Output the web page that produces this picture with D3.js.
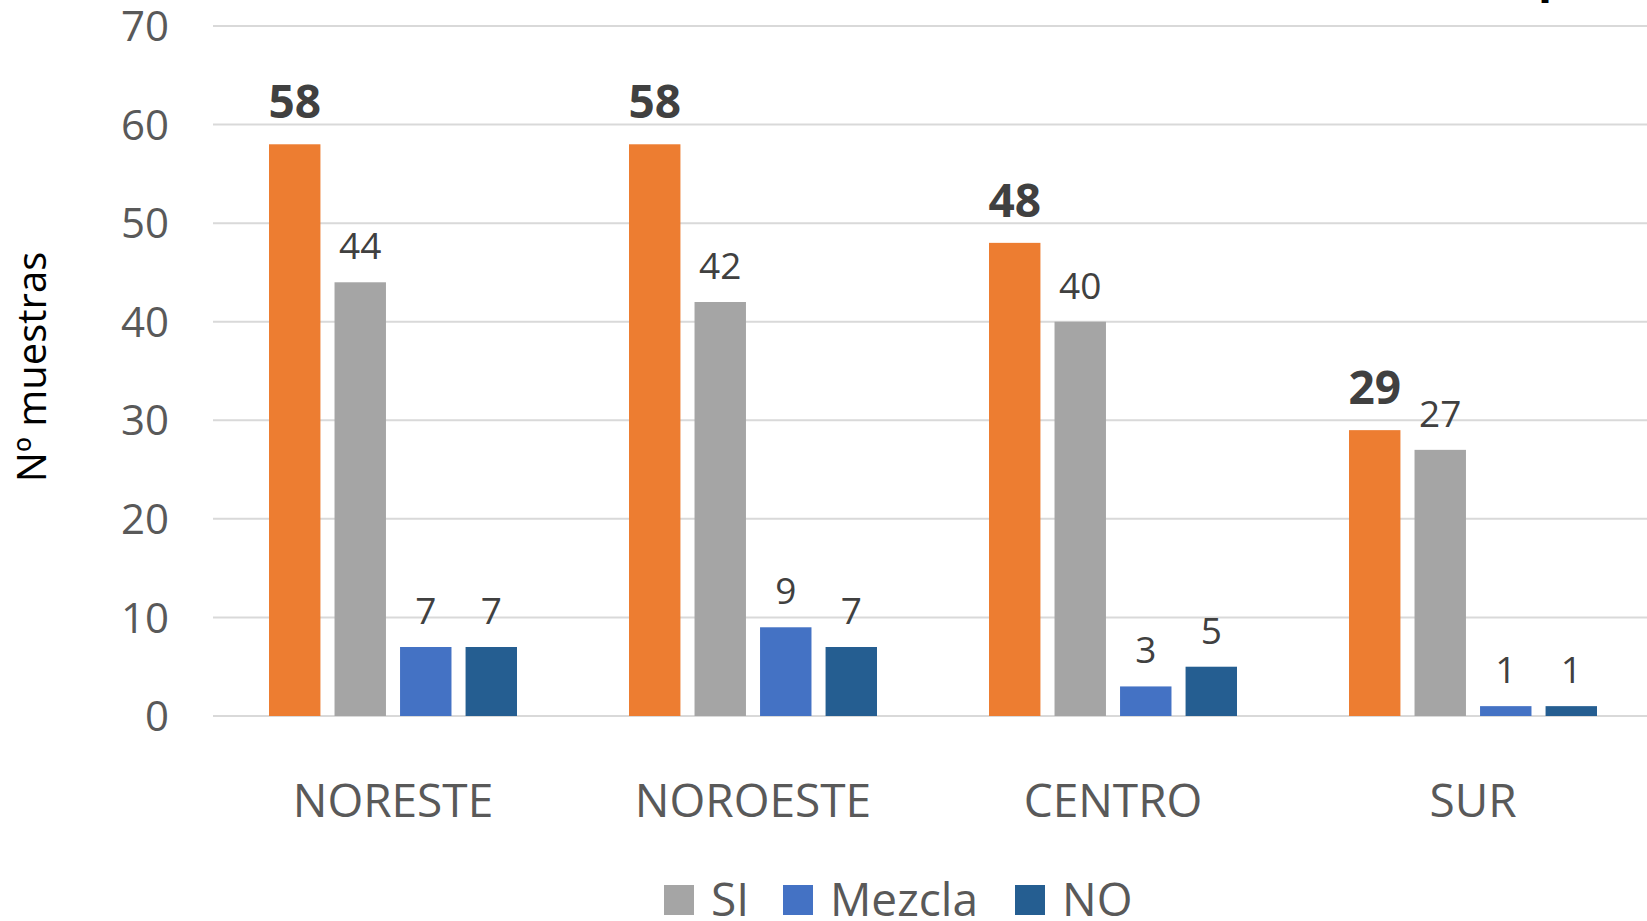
<!DOCTYPE html>
<html>
<head>
<meta charset="utf-8">
<script src="https://cdn.jsdelivr.net/npm/d3@7"></script>
<style>
  body { margin: 0; background: #fff; }
  svg { display: block; font-family: "Open Sans", sans-serif; }
</style>
</head>
<body>
<div id="chart"></div>
<script>
// data
const categories = ["NORESTE", "NOROESTE", "CENTRO", "SUR"];
const seriesNames = ["Total", "SI", "Mezcla", "NO"];
const totalValues = [58, 58, 48, 29];
const siValues = [44, 42, 40, 27];
const mezclaValues = [7, 9, 3, 1];
const noValues = [7, 7, 5, 1];
const yTicks = [0, 10, 20, 30, 40, 50, 60, 70];
const legendNames = ["SI", "Mezcla", "NO"];

const colors = {Total: "#ED7D31", SI: "#A5A5A5", Mezcla: "#4472C4", NO: "#255E91"};
const seriesValues = {Total: totalValues, SI: siValues, Mezcla: mezclaValues, NO: noValues};

const width = 1647, height = 921;
const plotLeft = 213, plotRight = 1653, plotTop = 26, plotBottom = 716;

const svg = d3.select("#chart").append("svg")
    .attr("width", width)
    .attr("height", height);

const x = d3.scaleBand().domain(categories).range([plotLeft, plotRight]);
const xInner = d3.scaleBand().domain(seriesNames)
    .range([56, x.bandwidth() - 56])
    .paddingInner(0.215);
const y = d3.scaleLinear().domain([0, 70]).range([plotBottom, plotTop]);

// gridlines
svg.append("g").selectAll("line").data(yTicks).join("line")
    .attr("x1", plotLeft).attr("x2", width)
    .attr("y1", d => y(d)).attr("y2", d => y(d))
    .attr("stroke", "#d9d9d9").attr("stroke-width", 2);

// y tick labels
svg.append("g").selectAll("text").data(yTicks).join("text")
    .attr("x", 169).attr("y", d => y(d))
    .attr("dy", "0.36em")
    .attr("text-anchor", "end")
    .style("font-size", "42px")
    .style("fill", "#595959")
    .text(d => d);

// y title
svg.append("text")
    .attr("transform", "translate(46,367) rotate(-90)")
    .attr("text-anchor", "middle")
    .style("font-size", "40px")
    .style("fill", "#000")
    .text("Nº muestras");

// cut-off title fragment at top edge
svg.append("text")
    .attr("x", 1538).attr("y", -8)
    .style("font-size", "46px").style("font-weight", "bold")
    .style("fill", "#000")
    .text("p");

// bars
const groups = svg.append("g").selectAll("g").data(categories).join("g")
    .attr("transform", d => `translate(${x(d)},0)`);

groups.each(function(cat, ci) {
    const g = d3.select(this);
    seriesNames.forEach(s => {
        const v = seriesValues[s][ci];
        g.append("rect")
            .attr("x", xInner(s))
            .attr("y", y(v))
            .attr("width", xInner.bandwidth())
            .attr("height", y(0) - y(v))
            .attr("fill", colors[s]);
        const bold = s === "Total";
        g.append("text")
            .attr("x", xInner(s) + xInner.bandwidth() / 2)
            .attr("y", y(v) - (bold ? 26 : 23))
            .attr("text-anchor", "middle")
            .style("font-size", bold ? "46px" : "37px")
            .style("font-weight", bold ? "bold" : "normal")
            .style("fill", "#404040")
            .text(v);
    });
});

// category labels
svg.append("g").selectAll("text").data(categories).join("text")
    .attr("x", d => x(d) + x.bandwidth() / 2)
    .attr("y", 817)
    .attr("text-anchor", "middle")
    .style("font-size", "46px")
    .style("fill", "#595959")
    .text(d => d);

// legend
const legendX = [664, 783, 1015];
const legend = svg.append("g").selectAll("g").data(legendNames).join("g")
    .attr("transform", (d, i) => `translate(${legendX[i]},885)`);
legend.append("rect")
    .attr("width", 30).attr("height", 30)
    .attr("fill", d => colors[d]);
legend.append("text")
    .attr("x", 47).attr("y", 31)
    .style("font-size", "46px")
    .style("fill", "#595959")
    .text(d => d);
</script>
</body>
</html>
